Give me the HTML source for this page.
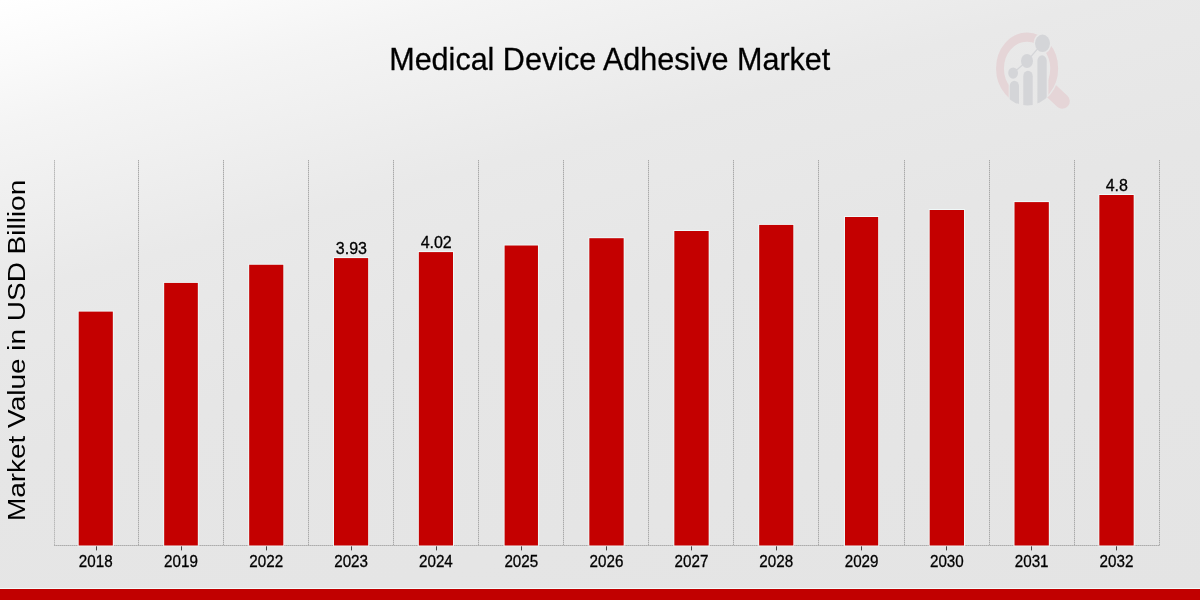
<!DOCTYPE html>
<html><head><meta charset="utf-8"><style>
html,body{margin:0;padding:0;}
body{width:1200px;height:600px;overflow:hidden;position:relative;
background:linear-gradient(165deg,#ffffff 0%,#fafafa 7%,#f4f4f4 14%,#e9e9e9 32%,#e6e6e6 50%,#e4e4e4 100%);
font-family:"Liberation Sans",sans-serif;}
svg{position:absolute;left:0;top:0;will-change:transform;}
</style></head><body>
<svg width="1200" height="600" viewBox="0 0 1200 600" font-family="Liberation Sans, sans-serif">

<defs>
<mask id="ringmask" maskUnits="userSpaceOnUse" x="-60" y="-60" width="120" height="120">
<rect x="-60" y="-60" width="120" height="120" fill="#fff"/>
<rect x="-18.4" y="0" width="39.7" height="40" fill="#000"/>
<circle cx="15.4" cy="-21.8" r="9" fill="#000"/>
</mask>
<mask id="handlemask" maskUnits="userSpaceOnUse" x="980" y="20" width="120" height="120">
<rect x="980" y="20" width="120" height="120" fill="#fff"/>
<ellipse cx="1027.1" cy="68.55" rx="32.3" ry="37.5" fill="#000"/>
</mask>
<clipPath id="barclip"><circle cx="0" cy="0" r="31.8"/></clipPath>
</defs>
<g transform="translate(1027.1 68.55) scale(1 1.16)">
<circle cx="0" cy="0" r="27.1" fill="none" stroke="#e5d5d7" stroke-width="7.9" mask="url(#ringmask)"/>
<g fill="#d4d5d8" clip-path="url(#barclip)">
<path d="M-17.4 40 V15.15 A4.65 4.65 0 0 1 -8.1 15.15 V40 Z"/>
<path d="M-3.8 40 V6.55 A4.7 4.7 0 0 1 5.6 6.55 V40 Z"/>
<path d="M10.3 40 V-6.75 A4.65 4.65 0 0 1 19.6 -6.75 V40 Z"/>
</g>
<polyline points="-14,3.9 -0.1,-6.5 15.4,-21.8" fill="none" stroke="#d4d5d8" stroke-width="1.2"/>
<g fill="#d4d5d8">
<circle cx="-14" cy="3.9" r="4.9"/>
<circle cx="-0.1" cy="-6.5" r="6"/>
<circle cx="15.4" cy="-21.8" r="7.47"/>
</g>
</g>
<g mask="url(#handlemask)"><line x1="1042" y1="82.3" x2="1062.3" y2="101.2" stroke="#e5d5d7" stroke-width="15" stroke-linecap="round"/></g>
<g stroke="#cdcdcd" stroke-width="1"><line x1="138.5" y1="160" x2="138.5" y2="545"/><line x1="223.5" y1="160" x2="223.5" y2="545"/><line x1="308.5" y1="160" x2="308.5" y2="545"/><line x1="393.5" y1="160" x2="393.5" y2="545"/><line x1="478.5" y1="160" x2="478.5" y2="545"/><line x1="563.5" y1="160" x2="563.5" y2="545"/><line x1="648.5" y1="160" x2="648.5" y2="545"/><line x1="733.5" y1="160" x2="733.5" y2="545"/><line x1="818.5" y1="160" x2="818.5" y2="545"/><line x1="904.5" y1="160" x2="904.5" y2="545"/><line x1="989.5" y1="160" x2="989.5" y2="545"/><line x1="1074.5" y1="160" x2="1074.5" y2="545"/><line x1="1159.5" y1="160" x2="1159.5" y2="545"/></g>
<g stroke="#a9a9a9" stroke-width="1" stroke-dasharray="1 1"><line x1="138.5" y1="160" x2="138.5" y2="545"/><line x1="223.5" y1="160" x2="223.5" y2="545"/><line x1="308.5" y1="160" x2="308.5" y2="545"/><line x1="393.5" y1="160" x2="393.5" y2="545"/><line x1="478.5" y1="160" x2="478.5" y2="545"/><line x1="563.5" y1="160" x2="563.5" y2="545"/><line x1="648.5" y1="160" x2="648.5" y2="545"/><line x1="733.5" y1="160" x2="733.5" y2="545"/><line x1="818.5" y1="160" x2="818.5" y2="545"/><line x1="904.5" y1="160" x2="904.5" y2="545"/><line x1="989.5" y1="160" x2="989.5" y2="545"/><line x1="1074.5" y1="160" x2="1074.5" y2="545"/><line x1="1159.5" y1="160" x2="1159.5" y2="545"/></g>
<line x1="54.5" y1="160" x2="54.5" y2="545" stroke="#cfcfcf" stroke-width="1"/>
<line x1="54.5" y1="160" x2="54.5" y2="545" stroke="#b8b8b8" stroke-width="1" stroke-dasharray="1 1"/>
<line x1="54" y1="545.5" x2="1160" y2="545.5" stroke="#c2c2c2" stroke-width="1"/>
<line x1="54" y1="545.5" x2="1160" y2="545.5" stroke="#acacac" stroke-width="1" stroke-dasharray="1 1"/>
<g fill="#f2fdfd" opacity="0.9"><rect x="77.77" y="310.70" width="35.96" height="235.70"/><rect x="163.27" y="282.00" width="35.46" height="264.40"/><rect x="248.27" y="263.85" width="35.96" height="282.55"/><rect x="333.10" y="257.20" width="35.97" height="289.20"/><rect x="417.93" y="251.20" width="35.97" height="295.20"/><rect x="503.70" y="244.60" width="35.16" height="301.80"/><rect x="588.43" y="237.30" width="36.14" height="309.10"/><rect x="673.43" y="230.10" width="36.14" height="316.30"/><rect x="758.27" y="224.00" width="35.96" height="322.40"/><rect x="844.10" y="216.10" width="34.97" height="330.30"/><rect x="928.77" y="209.10" width="36.13" height="337.30"/><rect x="1013.60" y="201.20" width="36.13" height="345.20"/><rect x="1098.43" y="194.10" width="36.14" height="352.30"/></g>
<g fill="#c40000"><rect x="78.67" y="311.6" width="34.16" height="233.90"/><rect x="164.17" y="282.9" width="33.66" height="262.60"/><rect x="249.17" y="264.75" width="34.16" height="280.75"/><rect x="334.00" y="258.1" width="34.17" height="287.40"/><rect x="418.83" y="252.1" width="34.17" height="293.40"/><rect x="504.60" y="245.5" width="33.36" height="300.00"/><rect x="589.33" y="238.2" width="34.34" height="307.30"/><rect x="674.33" y="231.0" width="34.34" height="314.50"/><rect x="759.17" y="224.9" width="34.16" height="320.60"/><rect x="845.00" y="217.0" width="33.17" height="328.50"/><rect x="929.67" y="210.0" width="34.33" height="335.50"/><rect x="1014.50" y="202.1" width="34.33" height="343.40"/><rect x="1099.33" y="195.0" width="34.34" height="350.50"/></g>
<g stroke="#444" stroke-width="1"><line x1="96.5" y1="546.3" x2="96.5" y2="550.4"/><line x1="181.5" y1="546.3" x2="181.5" y2="550.4"/><line x1="266.5" y1="546.3" x2="266.5" y2="550.4"/><line x1="351.5" y1="546.3" x2="351.5" y2="550.4"/><line x1="436.5" y1="546.3" x2="436.5" y2="550.4"/><line x1="521.5" y1="546.3" x2="521.5" y2="550.4"/><line x1="606.5" y1="546.3" x2="606.5" y2="550.4"/><line x1="691.5" y1="546.3" x2="691.5" y2="550.4"/><line x1="776.5" y1="546.3" x2="776.5" y2="550.4"/><line x1="861.5" y1="546.3" x2="861.5" y2="550.4"/><line x1="946.5" y1="546.3" x2="946.5" y2="550.4"/><line x1="1031.5" y1="546.3" x2="1031.5" y2="550.4"/><line x1="1116.5" y1="546.3" x2="1116.5" y2="550.4"/></g>
<g font-size="16" fill="#000" stroke="#000" stroke-width="0.3" text-anchor="middle"><text x="95.75" y="567.5" transform="translate(95.75 0) scale(0.95 1) translate(-95.75 0)">2018</text><text x="181.00" y="567.5" transform="translate(181.00 0) scale(0.95 1) translate(-181.00 0)">2019</text><text x="266.25" y="567.5" transform="translate(266.25 0) scale(0.95 1) translate(-266.25 0)">2022</text><text x="351.09" y="567.5" transform="translate(351.09 0) scale(0.95 1) translate(-351.09 0)">2023</text><text x="435.91" y="567.5" transform="translate(435.91 0) scale(0.95 1) translate(-435.91 0)">2024</text><text x="521.28" y="567.5" transform="translate(521.28 0) scale(0.95 1) translate(-521.28 0)">2025</text><text x="606.50" y="567.5" transform="translate(606.50 0) scale(0.95 1) translate(-606.50 0)">2026</text><text x="691.50" y="567.5" transform="translate(691.50 0) scale(0.95 1) translate(-691.50 0)">2027</text><text x="776.25" y="567.5" transform="translate(776.25 0) scale(0.95 1) translate(-776.25 0)">2028</text><text x="861.59" y="567.5" transform="translate(861.59 0) scale(0.95 1) translate(-861.59 0)">2029</text><text x="946.84" y="567.5" transform="translate(946.84 0) scale(0.95 1) translate(-946.84 0)">2030</text><text x="1031.66" y="567.5" transform="translate(1031.66 0) scale(0.95 1) translate(-1031.66 0)">2031</text><text x="1116.50" y="567.5" transform="translate(1116.50 0) scale(0.95 1) translate(-1116.50 0)">2032</text></g>
<g font-size="16" fill="#000" stroke="#000" stroke-width="0.3" text-anchor="middle"><text x="351.39" y="254.3">3.93</text><text x="436.21" y="248.3">4.02</text><text x="1116.80" y="191.2">4.8</text></g>
<text x="609.75" y="70.2" font-size="32" fill="#000" stroke="#000" stroke-width="0.3" text-anchor="middle" transform="translate(609.75 0) scale(0.954 1) translate(-609.75 0)">Medical Device Adhesive Market</text>
<text font-size="23" fill="#000" text-anchor="middle" transform="translate(25 350.45) rotate(-90) scale(1.216 1)">Market Value in USD Billion</text>
<rect x="0" y="588" width="1200" height="1" fill="#f2fbfb"/>
<rect x="0" y="589" width="1200" height="11" fill="#c10000"/>
</svg>
</body></html>
